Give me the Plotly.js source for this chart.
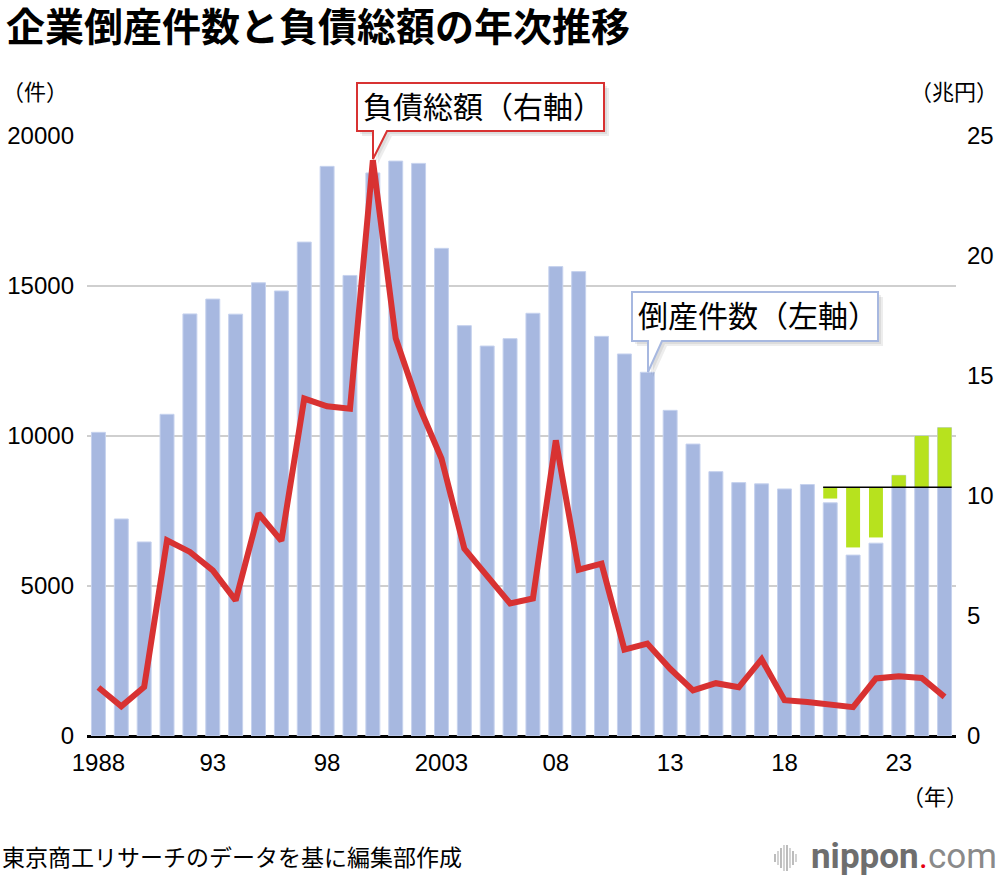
<!DOCTYPE html>
<html>
<head>
<meta charset="utf-8">
<script src="https://cdn.plot.ly/plotly-3.0.1.min.js"></script>
<style>
  html, body { margin: 0; padding: 0; background: #fff; }
  #chart { width: 1000px; height: 882px; }
</style>
</head>
<body>
<div id="chart"></div>
<script>
// 年（1988〜2025）
var years = [1988, 1989, 1990, 1991, 1992, 1993, 1994, 1995, 1996, 1997,
             1998, 1999, 2000, 2001, 2002, 2003, 2004, 2005, 2006, 2007,
             2008, 2009, 2010, 2011, 2012, 2013, 2014, 2015, 2016, 2017,
             2018, 2019, 2020, 2021, 2022, 2023, 2024, 2025];

// 倒産件数（件）
var counts = [10122, 7234, 6468, 10723, 14069, 14564, 14061, 15108, 14834, 16464,
              18988, 15352, 18769, 19164, 19087, 16255, 13679, 12998, 13245, 14091,
              15646, 15480, 13321, 12734, 12124, 10855, 9731, 8812, 8446, 8405,
              8235, 8383, 7773, 6030, 6428, 8690, 10006, 10280];

// 負債総額（兆円）
var debt = [2.02, 1.24, 2.04, 8.15, 7.67, 6.9, 5.65, 9.27, 8.13, 14.06,
            13.74, 13.64, 23.99, 16.57, 13.78, 11.56, 7.81, 6.7, 5.52, 5.73,
            12.32, 6.93, 7.18, 3.6, 3.85, 2.8, 1.9, 2.2, 2.03, 3.2,
            1.49, 1.42, 1.28, 1.2, 2.4, 2.49, 2.42, 1.63];

// 2019年水準との差（緑）
var diffYears = [2020, 2021, 2022, 2023, 2024, 2025];
var diffEnds = [7915, 6285, 6618, 8690, 10006, 10280];
var refLevel = 8290;

var tickYears = [1988, 1993, 1998, 2003, 2008, 2013, 2018, 2023];
var tickText = ["1988", "93", "98", "2003", "08", "13", "18", "23"];

var barColor = "#a7b8e0";
var greenColor = "#b7e21e";
var redColor = "#d83232";
var jpFont = "Liberation Sans, Noto Sans CJK JP, sans-serif";

// plot area in pixels, used to place the callouts and texts
var L = 87, R = 956, T = 136, B = 736;
function px(x) { return (x - L) / (R - L); }
function py(y) { return (B - y) / (B - T); }

var diffBase = [];
var diffHeight = [];
for (var i = 0; i < diffEnds.length; ++i) {
    var lo = Math.min(diffEnds[i], refLevel);
    var hi = Math.max(diffEnds[i], refLevel);
    diffBase.push(lo);
    diffHeight.push(hi - lo);
}

var data = [
    {
        type: "bar",
        x: years,
        y: counts,
        width: 0.61,
        marker: { color: barColor, line: { color: "#c6d2ee", width: 1 } },
        hoverinfo: "x+y",
        showlegend: false
    },
    {
        type: "bar",
        x: diffYears,
        y: diffHeight,
        base: diffBase,
        width: 0.61,
        marker: { color: greenColor, line: { width: 0 } },
        showlegend: false
    },
    {
        type: "scatter",
        mode: "lines",
        x: years,
        y: debt,
        yaxis: "y2",
        line: { color: redColor, width: 6 },
        showlegend: false
    }
];

function callout(x0, y0, x1, y1, pl, pr, tx, ty) {
    // box with a pointer from the bottom edge to (tx, ty)
    var p = "M " + px(x0) + " " + py(y0) +
            " L " + px(x1) + " " + py(y0) +
            " L " + px(x1) + " " + py(y1) +
            " L " + px(pr) + " " + py(y1) +
            " L " + px(tx) + " " + py(ty) +
            " L " + px(pl) + " " + py(y1) +
            " L " + px(x0) + " " + py(y1) + " Z";
    return p;
}

function shifted(x0, y0, x1, y1, pl, pr, tx, ty, d) {
    return callout(x0 + d, y0 + d, x1 + d, y1 + d, pl + d, pr + d, tx + d, ty + d);
}

var shapes = [];
// shadows
[5, 3].forEach(function (d) {
    shapes.push({ type: "path", xref: "paper", yref: "paper",
        path: shifted(357, 83, 604, 131, 373, 387, 373, 159, d),
        fillcolor: "rgba(0,0,0,0.07)", line: { width: 0 } });
    shapes.push({ type: "path", xref: "paper", yref: "paper",
        path: shifted(632, 292, 878, 341, 648, 662, 648, 372, d),
        fillcolor: "rgba(0,0,0,0.07)", line: { width: 0 } });
});
shapes.push({ type: "path", xref: "paper", yref: "paper",
    path: callout(357, 83, 604, 131, 373, 387, 373, 159),
    fillcolor: "#ffffff", line: { color: redColor, width: 2 } });
shapes.push({ type: "path", xref: "paper", yref: "paper",
    path: callout(632, 292, 878, 341, 648, 662, 648, 372),
    fillcolor: "#ffffff", line: { color: barColor, width: 2 } });

// 2019年水準の線
shapes.push({ type: "line", xref: "x", yref: "y",
    x0: diffYears[0] - 0.31, x1: diffYears[diffYears.length - 1] + 0.31,
    y0: refLevel, y1: refLevel,
    line: { color: "#000000", width: 1.5 } });

// nippon.com logo bars
var logoH = [8, 14, 20, 26, 26, 20, 14, 8];
for (var k = 0; k < logoH.length; ++k) {
    var lx = 775 + k * 3;
    shapes.push({ type: "line", xref: "paper", yref: "paper",
        x0: px(lx), x1: px(lx), y0: py(858 - logoH[k] / 2), y1: py(858 + logoH[k] / 2),
        line: { color: k % 2 ? "#bbbbbb" : "#999999", width: 1.3 } });
}

var annotations = [
    { xref: "paper", yref: "paper", x: px(483), y: py(107), text: "負債総額（右軸）",
      showarrow: false, font: { size: 30, color: "#000" }, xanchor: "center", yanchor: "middle" },
    { xref: "paper", yref: "paper", x: px(758), y: py(316), text: "倒産件数（左軸）",
      showarrow: false, font: { size: 30, color: "#000" }, xanchor: "center", yanchor: "middle" },
    { xref: "paper", yref: "paper", x: px(0), y: py(93), text: "（件）",
      showarrow: false, font: { size: 22, color: "#000" }, xanchor: "left", yanchor: "middle" },
    { xref: "paper", yref: "paper", x: px(1000), y: py(93), text: "（兆円）",
      showarrow: false, font: { size: 22, color: "#000" }, xanchor: "right", yanchor: "middle" },
    { xref: "paper", yref: "paper", x: px(970), y: py(797), text: "（年）",
      showarrow: false, font: { size: 22, color: "#000" }, xanchor: "right", yanchor: "middle" },
    { xref: "paper", yref: "paper", x: px(0), y: py(858), text: "東京商工リサーチのデータを基に編集部作成",
      showarrow: false, font: { size: 23, color: "#000" }, xanchor: "left", yanchor: "middle" },
    { xref: "paper", yref: "paper", x: px(999), y: py(856),
      text: "<b>nippon</b><span style='color:#e60012'>.</span><span style='color:#8a8a8a'>com</span>",
      showarrow: false, font: { size: 35, color: "#6e6e6e", family: "Roboto, sans-serif" },
      xanchor: "right", yanchor: "middle" }
];

var layout = {
    width: 1000,
    height: 882,
    margin: { l: L, r: 1000 - R, t: T, b: 882 - B, pad: 0 },
    paper_bgcolor: "#ffffff",
    plot_bgcolor: "#ffffff",
    font: { family: jpFont, color: "#000000" },
    title: {
        text: "<b>企業倒産件数と負債総額の年次推移</b>",
        font: { size: 39, color: "#000" },
        x: 0.006, xanchor: "left", xref: "container",
        y: 1 - 27 / 882, yanchor: "middle", yref: "container"
    },
    barmode: "overlay",
    bargap: 0.39,
    xaxis: {
        range: [1987.5, 2025.5],
        tickvals: tickYears,
        ticktext: tickText,
        ticks: "",
        showgrid: false,
        zeroline: false,
        showline: false,
        tickfont: { size: 24, family: "Liberation Sans, sans-serif" },
        ticklabelstandoff: 10
    },
    yaxis: {
        range: [0, 20000],
        dtick: 5000,
        tickformat: "d",
        ticks: "",
        showgrid: true,
        gridcolor: "#cfcfcf",
        gridwidth: 1.5,
        zeroline: true,
        zerolinecolor: "#000000",
        zerolinewidth: 3,
        tickfont: { size: 24, family: "Liberation Sans, sans-serif" },
        ticklabelstandoff: 12
    },
    yaxis2: {
        overlaying: "y",
        side: "right",
        range: [0, 25],
        dtick: 5,
        ticks: "",
        showgrid: false,
        zeroline: false,
        tickfont: { size: 24, family: "Liberation Sans, sans-serif" },
        ticklabelstandoff: 10
    },
    shapes: shapes,
    annotations: annotations
};

Plotly.newPlot("chart", data, layout, { displayModeBar: false, staticPlot: true });
</script>
</body>
</html>
